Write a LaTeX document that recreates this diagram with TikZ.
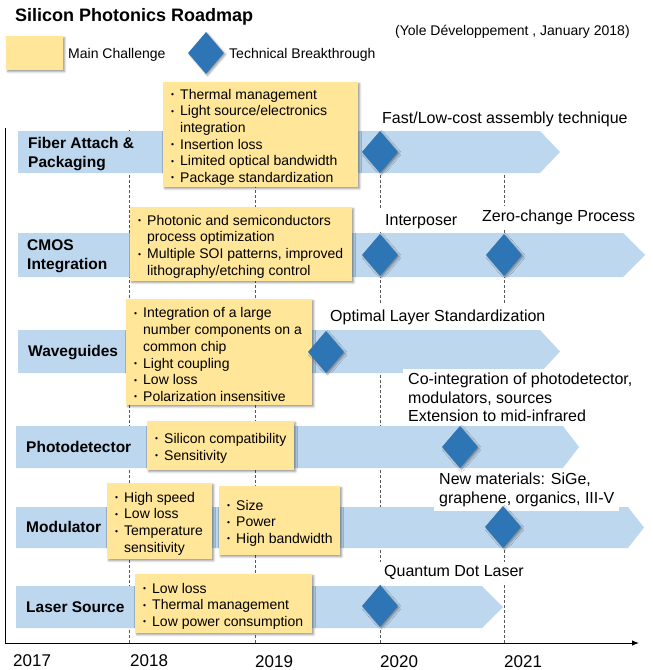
\documentclass[tikz,border=0pt]{standalone}
\usepackage{fontspec}
\setmainfont{Liberation Sans}
\usetikzlibrary{shapes.geometric,shadows.blur,arrows.meta}

\definecolor{barblue}{HTML}{BDD7EE}
\definecolor{gemblue}{HTML}{2E75B6}
\definecolor{chyellow}{HTML}{FFE699}

% bullet and hanging indent for the challenge lists
\newcommand\itm{\makebox[9pt][l]{\raisebox{1.6pt}{\fontsize{8.5}{8.5}\selectfont •}}}
\newcommand\ind{\hspace*{9pt}}
% arrow-shaped timeline bar: left, top, shoulder, tip, bottom
\newcommand\roadbar[5]{%
  \fill[roadbar] (#1,#2) -- (#3,#2) -- (#4,{(#2+#5)/2}) -- (#3,#5) -- (#1,#5) -- cycle;}

\tikzset{
  softshadow/.style={blur shadow={shadow xshift=1.5pt, shadow yshift=-1.5pt,
      shadow blur radius=2pt, shadow opacity=40}},
  roadbar/.style={fill=barblue},
  yearline/.style={draw=black!65, line width=0.6pt, dash pattern=on 3pt off 2pt},
  axisline/.style={draw=black, line width=0.9pt},
  cbox/.style={fill=chyellow, inner sep=0pt, anchor=north west, softshadow},
  ctext/.style={anchor=west, align=left, inner sep=0pt, yshift=-2.5pt,
      font=\fontsize{14}{16.7}\selectfont},
  gem/.style={diamond, fill=gemblue, inner sep=0pt, minimum width=36pt,
      minimum height=42pt, softshadow},
  % multi-line labels are placed by the baseline of their last line
  rowlabel/.style={anchor=base west, align=left, inner sep=0pt,
      font=\bfseries\fontsize{15.5}{18.7}\selectfont},
  mlabel/.style={anchor=base west, align=left, fill=white, inner xsep=5pt,
      inner ysep=4pt, font=\fontsize{16}{18.7}\selectfont},
  yearlabel/.style={anchor=base west, inner sep=0pt, font=\fontsize{17}{20}\selectfont},
  legendtext/.style={anchor=base west, inner sep=0pt, font=\fontsize{14}{17}\selectfont},
}

\begin{document}
\begin{tikzpicture}[x=1pt, y=-1pt]
\useasboundingbox (0,0) rectangle (653,670);

% title, source and legend
\node[anchor=base west, inner sep=0pt, font=\bfseries\fontsize{18}{22}\selectfont]
  (title) at (15,21) {Silicon Photonics Roadmap};
\node[legendtext] (source) at (395,35) {(Yole Développement , January 2018)};
\node[cbox, minimum width=57pt, minimum height=34pt] (keybox) at (6,36) {};
\node[legendtext] (keyboxtext) at (68,58.3) {Main Challenge};
\node[gem] (keygem) at (206,53) {};
\node[legendtext] (keygemtext) at (229,58.3) {Technical Breakthrough};

% dashed year grid
\foreach \x in {129,255,380,504}{
  \draw[yearline] (\x,130) -- (\x,643);
}

% axes
\coordinate (axtop) at (5.5,128);
\coordinate (axend) at (639,643);
\draw[axisline, -{Latex[length=7pt,width=5.5pt]}] (axtop) |- (axend);

% years
\node[yearlabel] (yr17) at (13,666) {2017};
\node[yearlabel] (yr18) at (130,666) {2018};
\node[yearlabel] (yr19) at (255,667) {2019};
\node[yearlabel] (yr20) at (380,667) {2020};
\node[yearlabel] (yr21) at (504,667) {2021};

% timeline bars
\roadbar{18}{131}{540}{560}{173}
\roadbar{18}{233}{623}{645}{277}
\roadbar{18}{330}{540}{560}{373}
\roadbar{16}{426}{563}{579}{468}
\roadbar{16}{507}{628}{644}{548}
\roadbar{16}{586}{482}{503}{628}

% row titles
\node[rowlabel] (rfiber) at (28,167.3) {Fiber Attach \&\\Packaging};
\node[rowlabel] (rcmos) at (27,269) {CMOS\\Integration};
\node[rowlabel] (rwave) at (28,356.7) {Waveguides};
\node[rowlabel] (rphoto) at (26,452.3) {Photodetector};
\node[rowlabel] (rmod) at (26,532.7) {Modulator};
\node[rowlabel] (rlaser) at (26,612.3) {Laser Source};

% breakthrough captions
\node[mlabel] (mfast) at (377,123.5) {Fast/Low-cost assembly technique};
\node[mlabel] (minter) at (380,225) {Interposer};
\node[mlabel] (mzero) at (477,221.7) {Zero-change Process};
\node[mlabel] (moptim) at (325,321) {Optimal Layer Standardization};
\node[mlabel] (mcoint) at (403,421.7) {Co-integration of photodetector,\\modulators, sources\\Extension to mid-infrared};
\node[mlabel] (mnew) at (434,503.3) {New materials: SiGe,\\graphene, organics, III-V};
\node[mlabel] (mqdot) at (379,576.7) {Quantum Dot Laser};

% main challenges
\node[cbox, minimum width=195pt, minimum height=105pt] (cfiber) at (163,82) {};
\node[ctext] (tfiber) at ([xshift=8pt]cfiber.west) {\itm Thermal management\\\itm Light source/electronics\\\ind integration\\\itm Insertion loss\\\itm Limited optical bandwidth\\\itm Package standardization};

\node[cbox, minimum width=222pt, minimum height=74pt] (ccmos) at (130,207) {};
\node[ctext] (tcmos) at ([xshift=8pt]ccmos.west) {\itm Photonic and semiconductors\\\ind process optimization\\\itm Multiple SOI patterns, improved\\\ind lithography/etching control};

\node[cbox, minimum width=186pt, minimum height=106pt] (cwave) at (126,299) {};
\node[ctext] (twave) at ([xshift=8pt]cwave.west) {\itm Integration of a large\\\ind number components on a\\\ind common chip\\\itm Light coupling\\\itm Low loss\\\itm Polarization insensitive};

\node[cbox, minimum width=147pt, minimum height=49pt] (cphoto) at (147,421) {};
\node[ctext] (tphoto) at ([xshift=8pt]cphoto.west) {\itm Silicon compatibility\\\itm Sensitivity};

\node[cbox, minimum width=105pt, minimum height=76pt] (cmoda) at (107,483) {};
\node[ctext] (tmoda) at ([xshift=8pt]cmoda.west) {\itm High speed\\\itm Low loss\\\itm Temperature\\\ind sensitivity};

\node[cbox, minimum width=121pt, minimum height=69pt] (cmodb) at (219,486) {};
\node[ctext] (tmodb) at ([xshift=8pt]cmodb.west) {\itm Size\\\itm Power\\\itm High bandwidth};

\node[cbox, minimum width=177pt, minimum height=59pt] (claser) at (135,574) {};
\node[ctext] (tlaser) at ([xshift=8pt]claser.west) {\itm Low loss\\\itm Thermal management\\\itm Low power consumption};

% technical breakthroughs
\node[gem] (gfiber) at (380,152) {};
\node[gem] (gcmosa) at (380,255) {};
\node[gem] (gcmosb) at (504,255) {};
\node[gem] (gwave) at (326,352) {};
\node[gem] (gphoto) at (460,447) {};
\node[gem] (gmod) at (503,527) {};
\node[gem] (glaser) at (380,606) {};
\end{tikzpicture}
\end{document}
